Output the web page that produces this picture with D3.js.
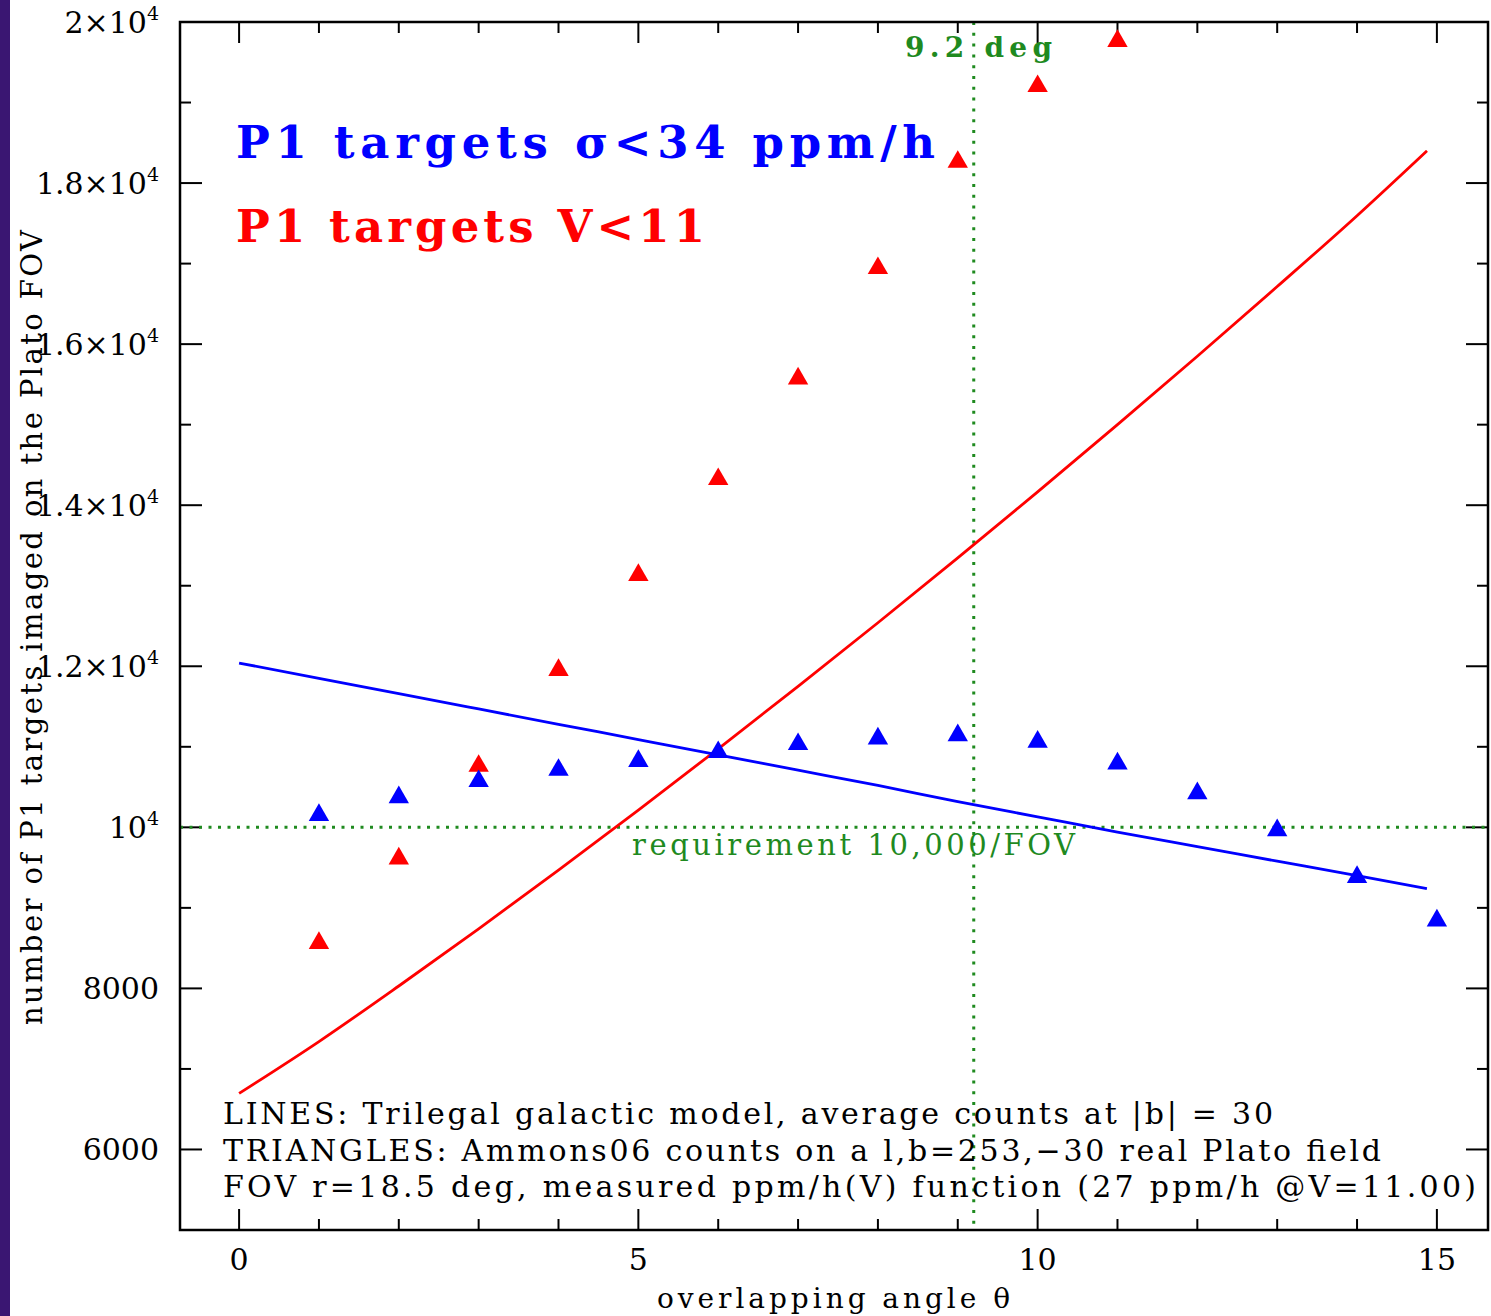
<!DOCTYPE html>
<html>
<head>
<meta charset="utf-8">
<script src="https://cdn.jsdelivr.net/npm/d3@7"></script>
<style>
  html, body { margin: 0; padding: 0; background: #fff; }
  svg text { font-family: "DejaVu Serif", "Liberation Serif", serif; }
</style>
</head>
<body>
<div id="chart"></div>
<script>
// overlapping angle (deg)
var angles = [1, 2, 3, 4, 5, 6, 7, 8, 9, 10, 11, 12, 13, 14, 15];
// triangles: Ammons06 counts
var redTriangles = [8600, 9650, 10800, 11990, 13170, 14360, 15610, 16980, 18300, 19240, 19800];
var blueTriangles = [10190, 10410, 10610, 10750, 10860, 10970, 11070, 11140, 11180, 11100, 10830, 10460, 10000, 9420, 8880];
// lines: Trilegal model
var lineAngles = [0, 1, 2, 3, 4, 5, 6, 7, 8, 9, 10, 11, 12, 13, 14, 14.875];
var redLine = [6696, 7340, 8030, 8740, 9470, 10215, 10975, 11750, 12540, 13345, 14165, 15000, 15850, 16715, 17595, 18400];
var blueLine = [12040, 11850, 11660, 11470, 11280, 11090, 10900, 10710, 10520, 10320, 10130, 9940, 9760, 9580, 9400, 9240];
var yMajor = [6000, 8000, 10000, 12000, 14000, 16000, 18000, 20000];
var yLabels = ["6000", "8000", "10|4", "1.2×10|4", "1.4×10|4", "1.6×10|4", "1.8×10|4", "2×10|4"];
var xMajor = [0, 5, 10, 15];
var requirement = 10000;
var overlapLimit = 9.2;

var W = 1491, H = 1316
  , pL = 180, pR = 1488, pT = 22, pB = 1230
  , blue = "#0000ff", red = "#ff0000", green = "#1f8a1f";

var svg = d3.select("#chart").append("svg")
  .attr("width", W).attr("height", H);

// purple edge on the left
svg.append("rect").attr("x", 0).attr("y", 0).attr("width", 10).attr("height", H)
  .style("fill", "#3a1672");

var x = d3.scaleLinear().domain([-0.74, 15.64]).range([pL, pR]);
var y = d3.scaleLinear().domain([5000, 20000]).range([pB, pT]);

var plot = svg.append("g");

// ticks (inward, all four sides)
var xMinor = d3.range(0, 16).filter(function (d) { return xMajor.indexOf(d) < 0; });
var yMinor = d3.range(6000, 20001, 1000).filter(function (d) { return yMajor.indexOf(d) < 0; });

function tickLines(vals, len, side) {
  var horiz = side === "top" || side === "bottom";
  plot.selectAll(null).data(vals).enter().append("line")
    .attr("x1", function (d) { return horiz ? x(d) : (side === "left" ? pL : pR); })
    .attr("x2", function (d) { return horiz ? x(d) : (side === "left" ? pL + len : pR - len); })
    .attr("y1", function (d) { return horiz ? (side === "top" ? pT : pB) : y(d); })
    .attr("y2", function (d) { return horiz ? (side === "top" ? pT + len : pB - len) : y(d); })
    .style("stroke", "#000").style("stroke-width", 2);
}
["top", "bottom"].forEach(function (s) { tickLines(xMajor, 21, s); tickLines(xMinor, 11, s); });
["left", "right"].forEach(function (s) { tickLines(yMajor, 22, s); tickLines(yMinor, 11, s); });

// dotted reference lines
plot.append("line")
  .attr("x1", pL).attr("x2", pR)
  .attr("y1", y(requirement)).attr("y2", y(requirement))
  .style("stroke", green).style("stroke-width", 3).style("stroke-dasharray", "3,6.5");
plot.append("line")
  .attr("x1", x(overlapLimit)).attr("x2", x(overlapLimit))
  .attr("y1", pT).attr("y2", pB)
  .style("stroke", green).style("stroke-width", 3).style("stroke-dasharray", "3,7.8");

// model lines
var line = d3.line()
  .curve(d3.curveMonotoneX)
  .x(function (d) { return x(d[0]); })
  .y(function (d) { return y(d[1]); });

plot.append("path").datum(d3.zip(lineAngles, redLine))
  .attr("d", line).style("fill", "none").style("stroke", red).style("stroke-width", 2.8);
plot.append("path").datum(d3.zip(lineAngles, blueLine))
  .attr("d", line).style("fill", "none").style("stroke", blue).style("stroke-width", 2.8);

// triangles (shifted so the box centre sits on the value)
var tri = d3.symbol().type(d3.symbolTriangle).size(180);
function triPos(d) { return "translate(" + x(d[0]) + "," + (y(d[1]) + 3) + ")"; }
plot.selectAll(".red-tri").data(d3.zip(angles.slice(0, redTriangles.length), redTriangles))
  .enter().append("path").attr("class", "red-tri")
  .attr("d", tri).attr("transform", triPos)
  .style("fill", red);
plot.selectAll(".blue-tri").data(d3.zip(angles, blueTriangles))
  .enter().append("path").attr("class", "blue-tri")
  .attr("d", tri).attr("transform", triPos)
  .style("fill", blue);

// frame
plot.append("rect")
  .attr("x", pL).attr("y", pT).attr("width", pR - pL).attr("height", pB - pT)
  .style("fill", "none").style("stroke", "#000").style("stroke-width", 2.5);

// y tick labels with superscripts
var yl = svg.selectAll(".ylab").data(d3.zip(yMajor, yLabels)).enter().append("text")
  .attr("class", "ylab")
  .attr("x", 159).attr("y", function (d) { return y(d[0]) + 11; })
  .attr("text-anchor", "end")
  .style("font-size", "30px");
yl.each(function (d) {
  var parts = d[1].split("|"), t = d3.select(this);
  t.append("tspan").text(parts[0]);
  if (parts.length > 1) {
    t.append("tspan").attr("dy", -13).style("font-size", "19px").text(parts[1]);
  }
});

// x tick labels
svg.selectAll(".xlab").data(xMajor).enter().append("text")
  .attr("x", function (d) { return x(d); }).attr("y", 1270)
  .attr("text-anchor", "middle")
  .style("font-size", "30px")
  .text(function (d) { return d; });

// axis titles
svg.append("text")
  .attr("x", 657).attr("y", 1308)
  .attr("textLength", 353).attr("lengthAdjust", "spacing")
  .style("font-size", "28px")
  .text("overlapping angle θ");
svg.append("text")
  .attr("transform", "translate(42,1025) rotate(-90)")
  .attr("textLength", 795).attr("lengthAdjust", "spacing")
  .style("font-size", "29px")
  .text("number of P1 targets imaged on the Plato FOV");

// legend
svg.append("text")
  .attr("x", 236).attr("y", 158)
  .attr("textLength", 699).attr("lengthAdjust", "spacing")
  .style("font-size", "45px").style("font-weight", "bold").style("fill", blue)
  .text("P1 targets σ<34 ppm/h");
svg.append("text")
  .attr("x", 236).attr("y", 242)
  .attr("textLength", 469).attr("lengthAdjust", "spacing")
  .style("font-size", "45px").style("font-weight", "bold").style("fill", red)
  .text("P1 targets V<11");

// green annotations
svg.append("text")
  .attr("x", 905).attr("y", 57)
  .attr("textLength", 147).attr("lengthAdjust", "spacing")
  .style("font-size", "28px").style("font-weight", "bold").style("fill", green)
  .text("9.2 deg");
svg.append("text")
  .attr("x", 632).attr("y", 855)
  .attr("textLength", 443).attr("lengthAdjust", "spacing")
  .style("font-size", "29px").style("fill", green)
  .text("requirement 10,000/FOV");

// notes
var notes = [
  ["LINES: Trilegal galactic model, average counts at |b| = 30", 1050],
  ["TRIANGLES: Ammons06 counts on a l,b=253,−30 real Plato field", 1158],
  ["FOV r=18.5 deg, measured ppm/h(V) function (27 ppm/h @V=11.00)", 1253]
];
svg.selectAll(".note").data(notes).enter().append("text")
  .attr("x", 223).attr("y", function (d, i) { return 1124 + i * 36.5; })
  .attr("textLength", function (d) { return d[1]; }).attr("lengthAdjust", "spacing")
  .style("font-size", "30px")
  .text(function (d) { return d[0]; });
</script>
</body>
</html>
